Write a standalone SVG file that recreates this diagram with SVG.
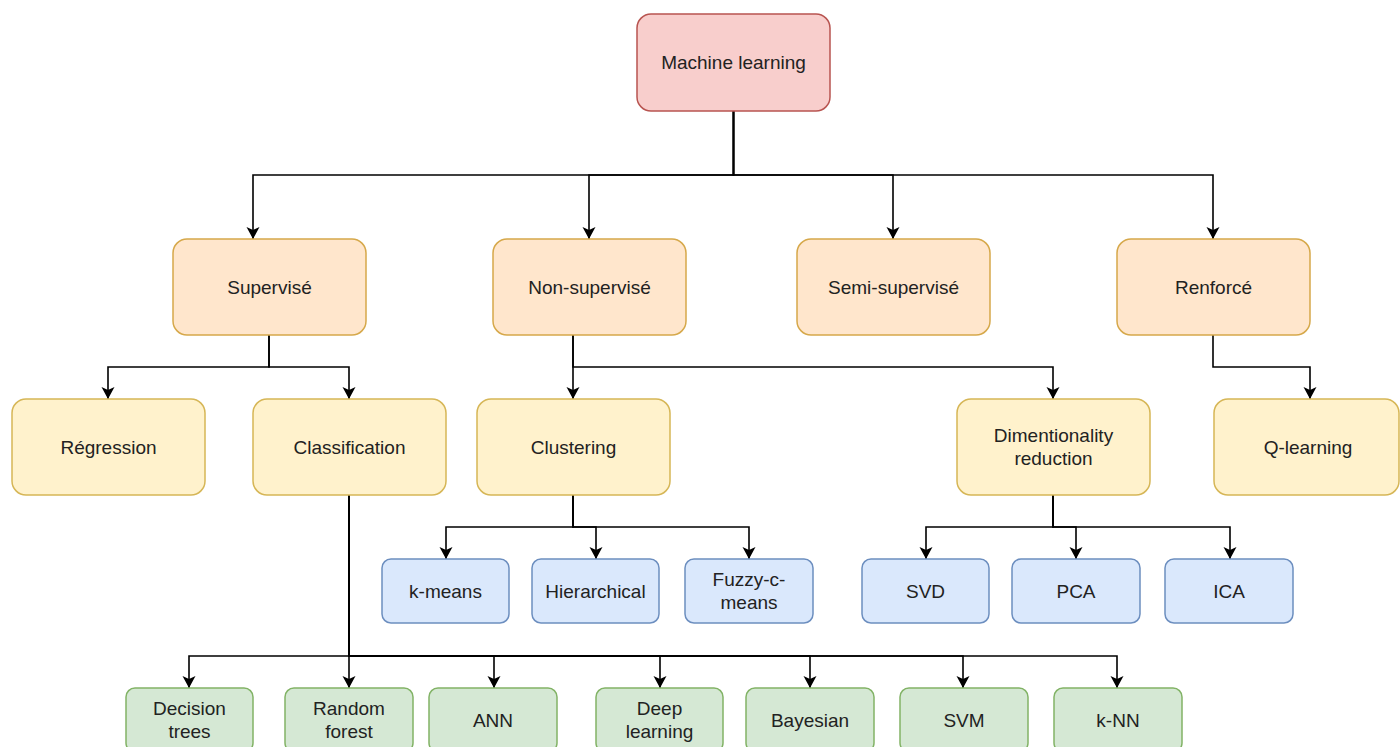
<svg xmlns="http://www.w3.org/2000/svg" width="1400" height="747" viewBox="0 0 1400 747">
<style>
text{font-family:"Liberation Sans",Arial,sans-serif;font-size:19px;fill:#222;text-anchor:middle;dominant-baseline:central}
rect{stroke-width:1.5}
.red{fill:#f8cecc;stroke:#b85450}
.org{fill:#ffe6cc;stroke:#d6a84a}
.yel{fill:#fff2cc;stroke:#d6b656}
.blu{fill:#dae8fc;stroke:#6c8ebf}
.grn{fill:#d5e8d4;stroke:#82b366}
.c path{fill:none;stroke:#000;stroke-width:1.6;marker-end:url(#a)}
</style>
<defs>
<marker id="a" markerUnits="userSpaceOnUse" markerWidth="14" markerHeight="14" refX="12" refY="6.5" orient="auto">
<path d="M0,0 L12,6.5 L0,13 L3,6.5 z" fill="#000"/>
</marker>
</defs>
<rect width="1400" height="747" fill="#fff"/>
<g class="c" id="connectors">
<path d="M733.5,111 V175 H253 V239"/>
<path d="M733.5,111 V175 H589 V239"/>
<path d="M733.5,111 V175 H893 V239"/>
<path d="M733.5,111 V175 H1213 V239"/>
<path d="M269,335 V367 H108 V399"/>
<path d="M269,335 V367 H349 V399"/>
<path d="M573,335 V399"/>
<path d="M573,335 V367 H1053 V399"/>
<path d="M1213,335 V367 H1310 V399"/>
<path d="M573,495 V527 H446 V559"/>
<path d="M573,495 V527 H596 V559"/>
<path d="M573,495 V527 H749 V559"/>
<path d="M1053,495 V527 H926 V559"/>
<path d="M1053,495 V527 H1076 V559"/>
<path d="M1053,495 V527 H1230 V559"/>
<path d="M349,495 V656 H189 V688"/>
<path d="M349,495 V688"/>
<path d="M349,495 V656 H494 V688"/>
<path d="M349,495 V656 H660 V688"/>
<path d="M349,495 V656 H810 V688"/>
<path d="M349,495 V656 H963 V688"/>
<path d="M349,495 V656 H1117 V688"/>
</g>
<g id="ml"><rect class="red" x="637" y="14" width="193" height="97" rx="14"/><text x="733.5" y="62.5">Machine learning</text></g>
<g id="supervise"><rect class="org" x="173" y="239" width="193" height="96" rx="14"/><text x="269.5" y="287">Supervisé</text></g>
<g id="nonsupervise"><rect class="org" x="493" y="239" width="193" height="96" rx="14"/><text x="589.5" y="287">Non-supervisé</text></g>
<g id="semisupervise"><rect class="org" x="797" y="239" width="193" height="96" rx="14"/><text x="893.5" y="287">Semi-supervisé</text></g>
<g id="renforce"><rect class="org" x="1117" y="239" width="193" height="96" rx="14"/><text x="1213.5" y="287">Renforcé</text></g>
<g id="regression"><rect class="yel" x="12" y="399" width="193" height="96" rx="14"/><text x="108.5" y="447">Régression</text></g>
<g id="classification"><rect class="yel" x="253" y="399" width="193" height="96" rx="14"/><text x="349.5" y="447">Classification</text></g>
<g id="clustering"><rect class="yel" x="477" y="399" width="193" height="96" rx="14"/><text x="573.5" y="447">Clustering</text></g>
<g id="dimred"><rect class="yel" x="957" y="399" width="193" height="96" rx="14"/><text x="1053.5" y="435.5">Dimentionality</text><text x="1053.5" y="458.5">reduction</text></g>
<g id="qlearning"><rect class="yel" x="1214" y="399" width="185" height="96" rx="14"/><text x="1308" y="447">Q-learning</text></g>
<g id="kmeans"><rect class="blu" x="382" y="559" width="127" height="64" rx="9"/><text x="445.5" y="591">k-means</text></g>
<g id="hierarchical"><rect class="blu" x="532" y="559" width="127" height="64" rx="9"/><text x="595.5" y="591">Hierarchical</text></g>
<g id="fuzzy"><rect class="blu" x="685" y="559" width="128" height="64" rx="9"/><text x="749" y="579.5">Fuzzy-c-</text><text x="749" y="602.5">means</text></g>
<g id="svd"><rect class="blu" x="862" y="559" width="127" height="64" rx="9"/><text x="925.5" y="591">SVD</text></g>
<g id="pca"><rect class="blu" x="1012" y="559" width="128" height="64" rx="9"/><text x="1076" y="591">PCA</text></g>
<g id="ica"><rect class="blu" x="1165" y="559" width="128" height="64" rx="9"/><text x="1229" y="591">ICA</text></g>
<g id="dtrees"><rect class="grn" x="126" y="688" width="127" height="64" rx="9"/><text x="189.5" y="708.5">Decision</text><text x="189.5" y="731.5">trees</text></g>
<g id="rforest"><rect class="grn" x="285" y="688" width="128" height="64" rx="9"/><text x="349" y="708.5">Random</text><text x="349" y="731.5">forest</text></g>
<g id="ann"><rect class="grn" x="429" y="688" width="128" height="64" rx="9"/><text x="493" y="720">ANN</text></g>
<g id="deep"><rect class="grn" x="596" y="688" width="127" height="64" rx="9"/><text x="659.5" y="708.5">Deep</text><text x="659.5" y="731.5">learning</text></g>
<g id="bayesian"><rect class="grn" x="746" y="688" width="128" height="64" rx="9"/><text x="810" y="720">Bayesian</text></g>
<g id="svm"><rect class="grn" x="900" y="688" width="128" height="64" rx="9"/><text x="964" y="720">SVM</text></g>
<g id="knn"><rect class="grn" x="1054" y="688" width="128" height="64" rx="9"/><text x="1118" y="720">k-NN</text></g>
</svg>
